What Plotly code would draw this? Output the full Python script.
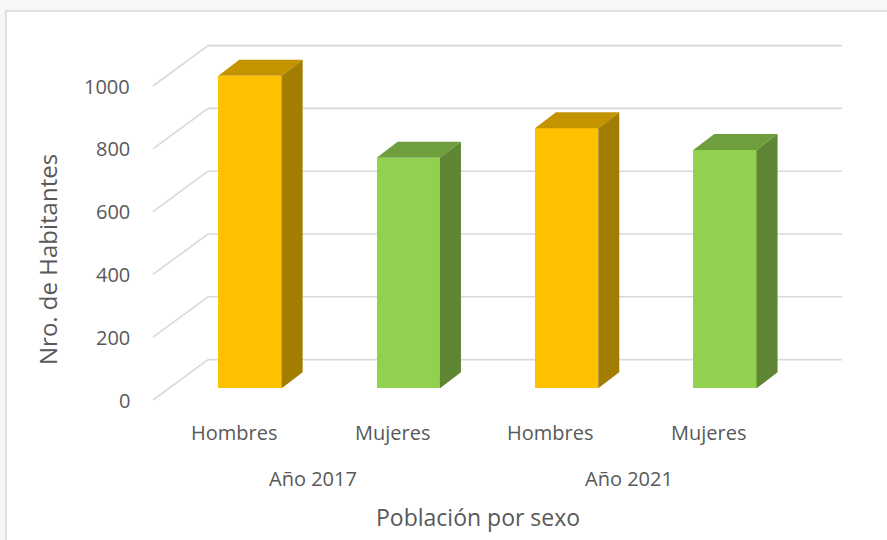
import plotly.graph_objects as go

# ---- data ----
categories = ["Hombres", "Mujeres", "Hombres", "Mujeres"]
groups = ["Año 2017", "Año 2021"]
values = [995, 734, 828, 759]
tick_values = [0, 200, 400, 600, 800, 1000]
tick_labels = ["0", "200", "400", "600", "800", "1000"]
x_title = "Población por sexo"
y_title = "Nro. de Habitantes"

# ---- styling / geometry (pixel based) ----
W, H = 887, 540
L, R, T, B = 60, 870, 20, 420          # plot area in pixels
X0_PX, X_STEP = 250.0, 158.3             # pixel of category 0, pixels per category
Y0_PX, Y_SCALE = 388.3, 0.314            # pixel of value 0 at bar plane, px per unit

def ux(px):   # pixel offset -> x units
    return px / X_STEP

def uy(px):   # pixel offset -> y units
    return px / Y_SCALE

xmin = (L - X0_PX) / X_STEP
xmax = (R - X0_PX) / X_STEP
ymax = (Y0_PX - T) / Y_SCALE
ymin = (Y0_PX - B) / Y_SCALE

BAR_W = 0.4
DDX, DDY = ux(21), uy(16)                   # bar depth
FRONT_DX, FRONT_DY = -ux(16.3), -uy(11.7)   # front edge of box relative to bar plane
BACK_DY = uy(28.7)                          # back wall relative to bar plane
FRONT_LEFT = ux(153 - X0_PX)
BACK_LEFT = ux(208 - X0_PX)
BACK_RIGHT = ux(842 - X0_PX)

front_cols = {"Hombres": "#FFC000", "Mujeres": "#92D050"}
top_cols = {"Hombres": "#C39400", "Mujeres": "#6F9E3D"}
side_cols = {"Hombres": "#A37D00", "Mujeres": "#5E8634"}
GRID = "#D9D9D9"
TXT = "#595959"
FONT = "Open Sans"

fig = go.Figure()

xs = list(range(len(values)))

# front faces
fig.add_trace(go.Bar(
    x=xs, y=values, width=BAR_W,
    marker=dict(color=[front_cols[c] for c in categories], line=dict(width=0)),
    hoverinfo="skip", showlegend=False,
))

# top and side faces
for i, (c, v) in enumerate(zip(categories, values)):
    xl, xr = i - BAR_W / 2, i + BAR_W / 2
    fig.add_trace(go.Scatter(
        x=[xl, xr, xr + DDX, xl + DDX, xl], y=[v, v, v + DDY, v + DDY, v],
        fill="toself", fillcolor=top_cols[c], mode="lines",
        line=dict(width=0, color=top_cols[c]), hoverinfo="skip", showlegend=False))
    fig.add_trace(go.Scatter(
        x=[xr, xr, xr + DDX, xr + DDX, xr], y=[0, v, v + DDY, DDY, 0],
        fill="toself", fillcolor=side_cols[c], mode="lines",
        line=dict(width=0, color=side_cols[c]), hoverinfo="skip", showlegend=False))

shapes = []
# chart area frame
shapes.append(dict(type="rect", xref="paper", yref="paper",
                   x0=(6 - L) / (R - L), x1=(W + 20 - L) / (R - L),
                   y0=(B - (H + 20)) / (B - T), y1=(B - 11) / (B - T),
                   fillcolor="white", line=dict(color="#D6D6D6", width=1.5), layer="below"))
# gridlines: back wall + side wall diagonals
for tv in tick_values:
    shapes.append(dict(type="line", xref="x", yref="y", layer="below",
                       x0=BACK_LEFT, y0=tv + BACK_DY, x1=BACK_RIGHT, y1=tv + BACK_DY,
                       line=dict(color=GRID, width=1.6)))
    shapes.append(dict(type="line", xref="x", yref="y", layer="below",
                       x0=FRONT_LEFT, y0=tv + FRONT_DY, x1=BACK_LEFT, y1=tv + BACK_DY,
                       line=dict(color=GRID, width=1.6)))

annotations = []
# y tick labels on the front edge
for tv, tl in zip(tick_values, tick_labels):
    annotations.append(dict(xref="x", yref="y", x=FRONT_LEFT, y=tv + FRONT_DY,
                            text=tl, showarrow=False, xanchor="right", yanchor="middle",
                            xshift=-21, font=dict(family=FONT, size=20, color=TXT)))

def py(px):
    return (B - px) / (B - T)

def pxp(px):
    return (px - L) / (R - L)

# category labels
for i, c in enumerate(categories):
    annotations.append(dict(xref="x", yref="paper", x=i + FRONT_DX, y=py(432),
                            text=c, showarrow=False, xanchor="center", yanchor="middle",
                            font=dict(family=FONT, size=20, color=TXT)))
# group labels
for g, gname in enumerate(groups):
    annotations.append(dict(xref="x", yref="paper", x=2 * g + 0.5 + FRONT_DX, y=py(478),
                            text=gname, showarrow=False, xanchor="center", yanchor="middle",
                            font=dict(family=FONT, size=20, color=TXT)))
# axis titles
annotations.append(dict(xref="paper", yref="paper", x=pxp(478), y=py(517), text=x_title,
                        showarrow=False, xanchor="center", yanchor="middle",
                        font=dict(family=FONT, size=23, color=TXT)))
annotations.append(dict(xref="paper", yref="paper", x=pxp(47), y=py(260), text=y_title,
                        textangle=-90, showarrow=False, xanchor="center", yanchor="middle",
                        font=dict(family=FONT, size=24, color=TXT)))

fig.update_layout(
    width=W, height=H,
    margin=dict(l=L, r=W - R, t=T, b=H - B, pad=0),
    paper_bgcolor="#F7F7F7", plot_bgcolor="rgba(0,0,0,0)",
    xaxis=dict(range=[xmin, xmax], visible=False, fixedrange=True),
    yaxis=dict(range=[ymin, ymax], visible=False, fixedrange=True),
    shapes=shapes, annotations=annotations, bargap=0,
    showlegend=False,
)

fig.write_html("out.html", config={"displayModeBar": False},
               post_script="document.body.style.margin='0';document.body.style.overflow='hidden';")
